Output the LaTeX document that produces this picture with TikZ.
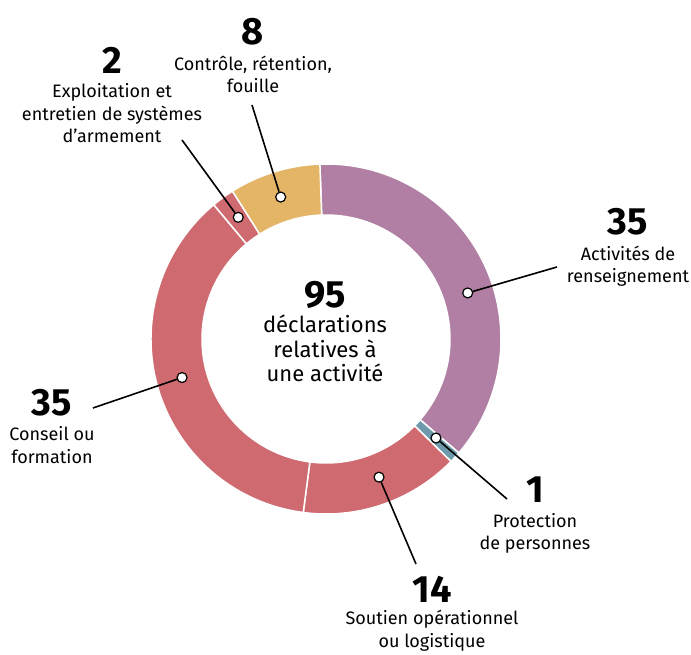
\documentclass[tikz,border=0pt]{standalone}
\usepackage{fontspec}
\setmainfont{Fira Sans}
\usetikzlibrary{positioning}
\definecolor{violetRens}{HTML}{B07FA3}
\definecolor{bleuProt}{HTML}{6F9AAB}
\definecolor{rougeSout}{HTML}{CF6A70}
\definecolor{jauneCtrl}{HTML}{E4B566}

\begin{document}
\begin{tikzpicture}[
  x=1pt, y=1pt,
  node distance=10pt, % Distance entre chiffre et texte
  % --- Styles ---
  secteur/.style={
    draw=white,
    line width=1.5pt
  },
  point/.style={
    circle,
    draw,
    fill=white,
    line width=1.2pt,
    minimum size=10pt,
    inner sep=0pt
  },
  connecteur/.style={
    line width=1.6pt
  },
  nombre/.style={
    font=\fontsize{38}{40}\selectfont\bfseries,
    inner sep=0pt
  },
  etiquette/.style={
    font=\fontsize{18}{22.5}\selectfont,
    align=center,
    inner sep=0pt
  },
  centre/.style={
    font=\fontsize{22}{24.5}\selectfont,
    align=center,
    inner sep=0pt
  }
  ]
  \useasboundingbox (-326,-316) rectangle (365,339);

  % 1. Anneau : secteurs dans le sens horaire depuis le haut
  \foreach \debut/\fin/\couleur in {92/-40.63/violetRens, -40.63/-44.42/bleuProt,
      -44.42/-97.47/rougeSout, -97.47/-230.11/rougeSout,
      -230.11/-237.68/rougeSout, -237.68/-268/jauneCtrl}
    \fill[\couleur, secteur] (\debut:175) arc[start angle=\debut, end angle=\fin, radius=175]
      -- (\fin:124) arc[start angle=\fin, end angle=\debut, radius=124] -- cycle;

  % 2. Texte central
  \node[nombre] (n_total) at (-1,44) {95};
  \node[centre, below=6pt of n_total] (t_total) {déclarations\\relatives à\\une activité};

  % 3. Chiffres et libellés
  \node[nombre] (n_rens) at (302,117) {35};
  \node[etiquette, below=of n_rens] (t_rens) {Activités de\\renseignement};
  \node[nombre] (n_prot) at (209,-151) {1};
  \node[etiquette, below=of n_prot] (t_prot) {Protection\\de personnes};
  \node[nombre] (n_sout) at (106,-250) {14};
  \node[etiquette, below=8pt of n_sout] (t_sout) {Soutien opérationnel\\ou logistique};
  \node[nombre] (n_cons) at (-274,-64) {35};
  \node[etiquette, below=of n_cons] (t_cons) {Conseil ou\\formation};
  \node[nombre] (n_expl) at (-214,279) {2};
  \node[etiquette, below=of n_expl] (t_expl) {Exploitation et\\entretien de systèmes\\d’armement};
  \node[nombre] (n_ctrl) at (-73,307) {8};
  \node[etiquette, below=of n_ctrl] (t_ctrl) {Contrôle, rétention,\\fouille};

  % 4. Extrémités libres des traits
  \coordinate (c_rens) at (231,72);
  \coordinate (c_prot) at (181,-160);
  \coordinate (c_sout) at (90,-225);
  \coordinate (c_cons) at (-233,-69);
  \coordinate (c_expl) at (-144,199);
  \coordinate (c_ctrl) at (-74,234);

  % 5. Points sur l'anneau
  \node[point] (p_rens) at (18:149) {};
  \node[point] (p_prot) at (-42:148) {};
  \node[point] (p_sout) at (-69:148) {};
  \node[point] (p_cons) at (195:149) {};
  \node[point] (p_expl) at (125.8:150) {};
  \node[point] (p_ctrl) at (107.7:149) {};

  % 6. Traits de rappel
  \draw[connecteur] (c_rens) -- (p_rens);
  \draw[connecteur] (c_prot) -- (p_prot);
  \draw[connecteur] (c_sout) -- (p_sout);
  \draw[connecteur] (c_cons) -- (p_cons);
  \draw[connecteur] (c_expl) -- (p_expl);
  \draw[connecteur] (c_ctrl) -- (p_ctrl);
\end{tikzpicture}
\end{document}
